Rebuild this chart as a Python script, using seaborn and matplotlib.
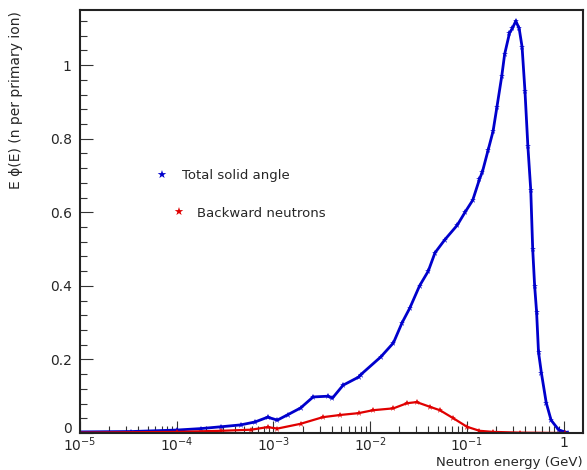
import numpy as np
import pandas as pd
import matplotlib
matplotlib.use("Agg")
import matplotlib.pyplot as plt
import matplotlib.transforms as mtransforms
import seaborn as sns
from matplotlib.ticker import FixedLocator, FixedFormatter, MultipleLocator, LogLocator, NullFormatter

# 数据 (从图中读取, log10(E/GeV))
total_log_e = [-5.0, -4.47, -4.0, -3.75, -3.54, -3.34, -3.19, -3.06, -2.96, -2.85,
               -2.72, -2.59, -2.44, -2.39, -2.28, -2.12, -2.10, -1.89, -1.76, -1.67,
               -1.59, -1.49, -1.40, -1.33, -1.23, -1.10, -1.02, -0.94, -0.87, -0.84,
               -0.78, -0.73, -0.69, -0.64, -0.61, -0.56, -0.53, -0.495, -0.46, -0.43,
               -0.40, -0.37, -0.34, -0.32, -0.30, -0.28, -0.26, -0.23, -0.18, -0.13,
               -0.05, 0.04]
total_flux = [0.003, 0.004, 0.008, 0.012, 0.017, 0.022, 0.030, 0.043, 0.035, 0.050,
              0.068, 0.098, 0.100, 0.095, 0.130, 0.152, 0.158, 0.207, 0.245, 0.300,
              0.340, 0.400, 0.440, 0.490, 0.525, 0.565, 0.600, 0.633, 0.690, 0.710,
              0.770, 0.820, 0.886, 0.970, 1.030, 1.087, 1.100, 1.120, 1.100, 1.050,
              0.930, 0.780, 0.660, 0.500, 0.400, 0.330, 0.220, 0.163, 0.082, 0.035,
              0.008, 0.001]

back_log_e = [-5.0, -4.0, -3.54, -3.23, -3.06, -2.96, -2.72, -2.49, -2.31, -2.12,
              -1.97, -1.76, -1.62, -1.52, -1.38, -1.28, -1.14, -1.00, -0.87, -0.73,
              -0.45, 0.01]
back_flux = [0.001, 0.003, 0.006, 0.009, 0.016, 0.012, 0.025, 0.043, 0.049, 0.054,
             0.062, 0.067, 0.081, 0.084, 0.071, 0.062, 0.040, 0.017, 0.006, 0.003,
             0.001, 0.0]

x_ticks = [1e-5, 1e-4, 1e-3, 1e-2, 1e-1, 1]
x_tick_labels = [r"$10^{-5}$", r"$10^{-4}$", r"$10^{-3}$", r"$10^{-2}$", r"$10^{-1}$", "1"]
y_ticks = [0, 0.2, 0.4, 0.6, 0.8, 1.0]
y_tick_labels = ["0", "0.2", "0.4", "0.6", "0.8", "1"]

df = pd.concat([
    pd.DataFrame({"E": 10.0 ** np.array(total_log_e), "flux": total_flux, "set": "Total solid angle"}),
    pd.DataFrame({"E": 10.0 ** np.array(back_log_e), "flux": back_flux, "set": "Backward neutrons"}),
])

sns.set_style("ticks")
plt.rcParams['font.family'] = ['DejaVu Sans']

fig = plt.figure(figsize=(5.87, 4.70), dpi=100)
ax = fig.add_axes([80 / 587, 37 / 470, 503 / 587, 423 / 470])

colors = {"Total solid angle": "#0000cc", "Backward neutrons": "#e00000"}
widths = {"Total solid angle": 2.0, "Backward neutrons": 1.6}
for name, sub in df.groupby("set", sort=False):
    sns.lineplot(data=sub, x="E", y="flux", ax=ax, color=colors[name],
                 lw=widths[name], marker="*", markersize=5, markeredgewidth=0,
                 estimator=None, sort=False, legend=False)

ax.set_xscale("log")
ax.set_xlim(1e-5, 10 ** 0.2)
ax.set_ylim(0, 1.15)

ax.xaxis.set_major_locator(FixedLocator(x_ticks))
ax.xaxis.set_major_formatter(FixedFormatter(x_tick_labels))
ax.xaxis.set_minor_locator(LogLocator(base=10, subs=np.arange(2, 10), numticks=20))
ax.xaxis.set_minor_formatter(NullFormatter())
ax.yaxis.set_major_locator(FixedLocator(y_ticks))
ax.yaxis.set_major_formatter(FixedFormatter(y_tick_labels))
ax.yaxis.set_minor_locator(MultipleLocator(0.04))

ax.tick_params(which="both", direction="in", top=False, right=False, labelsize=10, color="#333333")
ax.tick_params(which="major", length=9, width=0.8)
ax.tick_params(which="minor", length=5, width=0.8)
ax.tick_params(axis="x", pad=2)
ax.tick_params(axis="y", pad=6)
for side in ax.spines.values():
    side.set_linewidth(1.5)
    side.set_color("#222222")

# "0" 稍微上移, 避免和 10^-5 重叠
fig.canvas.draw()
zero_label = ax.get_yticklabels()[0]
zero_label.set_transform(zero_label.get_transform() + mtransforms.ScaledTranslation(0, 4 / 72, fig.dpi_scale_trans))

ax.set_xlabel("Neutron energy (GeV)", fontsize=9.5, ha="right")
ax.xaxis.set_label_coords(1.0, -0.055)
ax.set_ylabel("E \u03d5(E) (n per primary ion)", fontsize=10, ha="right")
ax.yaxis.set_label_coords(-0.113, 0.998)

# 图例 (ROOT 风格, 无边框)
ax.text(0.162, 0.608, "\u2605", transform=ax.transAxes, color="#0000cc", fontsize=8, va="center", ha="center")
ax.text(0.203, 0.608, "Total solid angle", transform=ax.transAxes, fontsize=9.5, va="center")
ax.text(0.195, 0.520, "\u2605", transform=ax.transAxes, color="#e00000", fontsize=8, va="center", ha="center")
ax.text(0.233, 0.520, "Backward neutrons", transform=ax.transAxes, fontsize=9.5, va="center")

fig.savefig("out.png", dpi=100)
